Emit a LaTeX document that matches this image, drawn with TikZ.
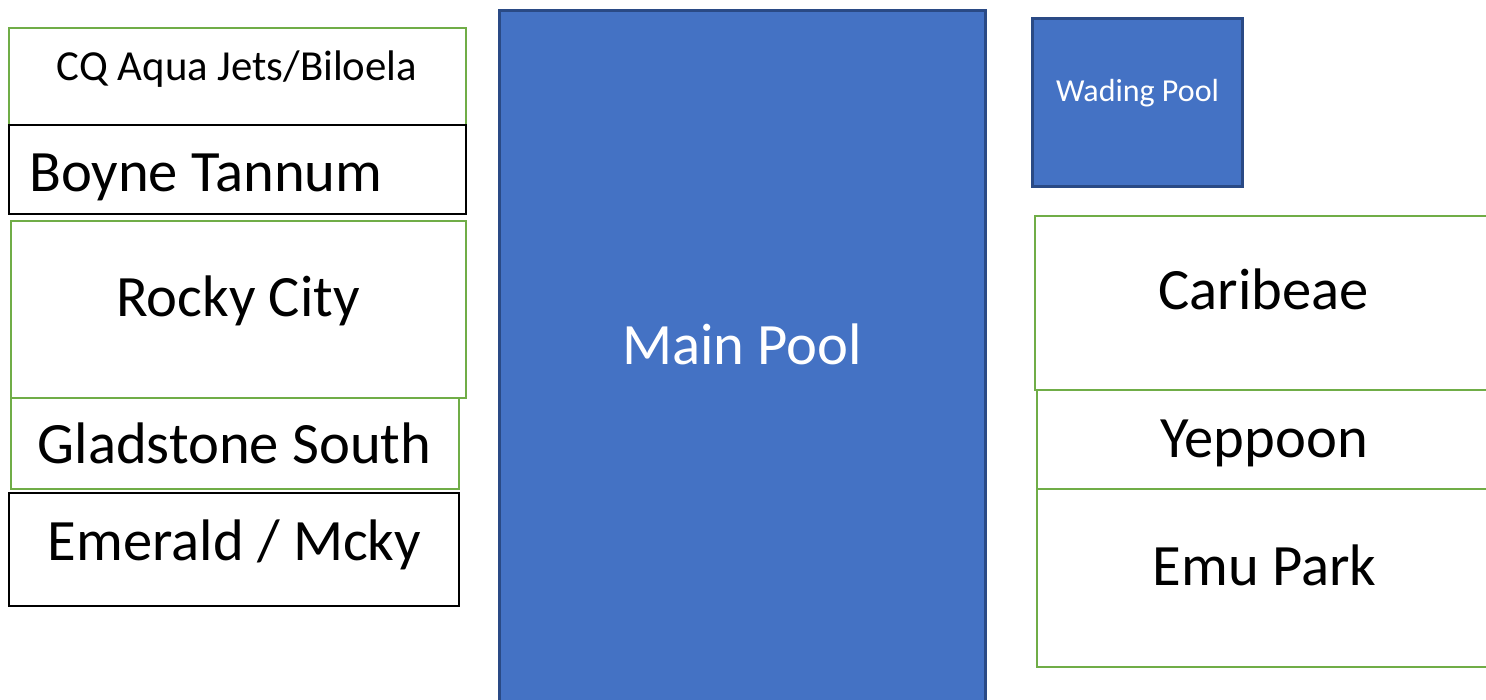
\documentclass[tikz,border=0pt]{standalone}
\usepackage{fontspec}
\setmainfont{Carlito}
\definecolor{grn}{HTML}{70AD47}
\definecolor{poolblue}{HTML}{4472C4}
\definecolor{pooledge}{HTML}{2A4A85}
\begin{document}
\begin{tikzpicture}[x=1pt,y=-1pt,
  greenbox/.style={draw=grn,line width=2.8pt,rectangle,inner sep=0pt,outer sep=0pt,anchor=north west},
  blackbox/.style={draw=black,line width=2.4pt,rectangle,inner sep=0pt,outer sep=0pt,anchor=north west},
  poolbox/.style={draw=pooledge,fill=poolblue,line width=3pt,rectangle,inner sep=0pt,outer sep=0pt,anchor=north west},
  bigtxt/.style={inner sep=0pt,font=\fontsize{58.6}{62}\selectfont,text=black},
  midtxt/.style={inner sep=0pt,font=\fontsize{42.8}{46}\selectfont,text=black},
  smalltxt/.style={inner sep=0pt,font=\fontsize{32}{35}\selectfont,text=white}
]
\useasboundingbox (0,0) rectangle (1486,700);
\fill[white] (0,0) rectangle (1486,700);
% left column
\node[greenbox,minimum width=457pt,minimum height=97pt] (cq) at (9,28) {};
\node[blackbox,minimum width=457pt,minimum height=89pt] (boyne) at (9,125) {};
\node[greenbox,minimum width=455pt,minimum height=177pt] (rocky) at (11,221) {};
\node[greenbox,minimum width=448pt,minimum height=91pt] (glad) at (11,398) {};
\node[blackbox,minimum width=450pt,minimum height=113pt] (emer) at (9,493) {};
% pools
\node[poolbox,minimum width=486pt,minimum height=710pt] (main) at (499,11) {};
\node[poolbox,minimum width=210pt,minimum height=168pt] (wade) at (1032,19) {};
% right column
\node[greenbox,minimum width=470pt,minimum height=174pt] (carib) at (1035,216) {};
\node[greenbox,minimum width=468pt,minimum height=99pt] (yepp) at (1037,390) {};
\node[greenbox,minimum width=468pt,minimum height=178pt] (emu) at (1037,489) {};
% texts
\node[midtxt,anchor=base] (tcq) at (237,81) {CQ Aqua Jets/Biloela};
\node[bigtxt,anchor=base west] (tboyne) at (29,192) {Boyne Tannum};
\node[bigtxt,anchor=base] (trocky) at (238,317) {Rocky City};
\node[bigtxt,anchor=base] (tglad) at (234.5,463) {Gladstone South};
\node[bigtxt,anchor=base] (temer) at (234.5,560) {Emerald / Mcky};
\node[bigtxt,anchor=base,text=white] (tmain) at (742,365) {Main Pool};
\node[smalltxt,anchor=base] (twade) at (1137.5,102) {Wading Pool};
\node[bigtxt,anchor=base] (tcarib) at (1263.5,310) {Caribeae};
\node[bigtxt,anchor=base] (tyepp) at (1264,457) {Yeppoon};
\node[bigtxt,anchor=base] (temu) at (1264.5,585) {Emu Park};
\end{tikzpicture}
\end{document}
